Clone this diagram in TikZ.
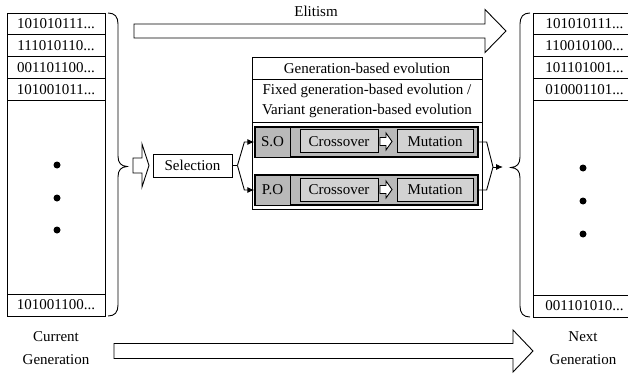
\documentclass[tikz,border=0pt]{standalone}
\usepackage{fontspec}
\setmainfont{Liberation Serif}
\usetikzlibrary{arrows.meta,calc}
\newcommand{\blkarrow}[6]{\draw[ln,fill=white] (#1,#4-#5) -- (#2,#4-#5) -- (#2,#4-#6) -- (#3,#4) -- (#2,#4+#6) -- (#2,#4+#5) -- (#1,#4+#5) -- cycle;}
\begin{document}
\begin{tikzpicture}[x=1pt,y=-1pt,
  every node/.style={font=\fontsize{15}{20}\selectfont, inner sep=0pt},
  ln/.style={line width=0.9pt},
  cell/.style={draw, line width=0.9pt, minimum width=98pt, minimum height=21.75pt},
  rcell/.style={draw, line width=0.9pt, minimum width=103pt, minimum height=21.75pt},
  box/.style={draw, line width=0.9pt, minimum width=230pt},
  rowbox/.style={draw, line width=1.3pt, fill=gray!55, minimum width=223pt, minimum height=30pt},
  tag/.style={draw, line width=0.9pt, fill=gray!55, minimum width=35pt, minimum height=30pt},
  op/.style={draw, line width=1pt, fill=gray!35, minimum height=23pt},
  arr/.style={ln, -{Latex[length=7pt,width=6pt]}}
]
\useasboundingbox (0,0) rectangle (628,374);

% left column
\node[cell] (L1) at (56,23.875) {101010111...};
\node[cell] (L2) at (56,45.625) {111010110...};
\node[cell] (L3) at (56,67.375) {001101100...};
\node[cell] (L4) at (56,89.125) {101001011...};
\node[cell, minimum height=194pt] (L0) at (56,197) {};
\node[cell, minimum height=22pt] (L5) at (56,305) {101001100...};
\fill (57,165) circle (3.5);
\fill (57,198) circle (3.5);
\fill (57,230) circle (3.5);

% right column
\node[rcell] (R1) at (584.5,23.875) {101010111...};
\node[rcell] (R2) at (584.5,45.625) {110010100...};
\node[rcell] (R3) at (584.5,67.375) {101101001...};
\node[rcell] (R4) at (584.5,89.125) {010001101...};
\node[rcell, minimum height=195pt] (R0) at (584.5,197.5) {};
\node[rcell, minimum height=22pt] (R5) at (584.5,306) {001101010...};
\fill (583,168) circle (3.5);
\fill (583,201) circle (3.5);
\fill (583,234) circle (3.5);

% braces
\draw[ln] (108,13) .. controls (115,13) and (118,17) .. (118,24) -- (118,156)
  .. controls (118,163) and (121,166) .. (127,166.5)
  .. controls (121,167) and (118,170) .. (118,177) -- (118,305)
  .. controls (118,312) and (115,316) .. (108,316);
\draw[ln] (530,13) .. controls (523,13) and (520,17) .. (520,24) -- (520,157)
  .. controls (520,164) and (517,167) .. (511,167.5)
  .. controls (517,168) and (520,171) .. (520,178) -- (520,306)
  .. controls (520,313) and (523,317) .. (530,317);

% block arrows
\blkarrow{134}{485}{506}{31}{7}{21.5}
\blkarrow{114}{513}{533}{351}{7.5}{21}
\blkarrow{133}{142}{149}{165.5}{7.5}{21.5}

% labels
\node (elit) at (316,11) {Elitism};
\node[align=center, font=\fontsize{15}{23}\selectfont] (cur) at (56,348) {Current\\Generation};
\node[align=center, font=\fontsize{15}{23}\selectfont] (nxt) at (583,348) {Next\\Generation};

% selection
\node[draw, line width=0.9pt, minimum width=79pt, minimum height=23pt] (sel) at (192.5,165.5) {Selection};

% middle structure
\node[box, minimum height=22pt] (hdr) at (367,68) {Generation-based evolution};
\node[box, minimum height=43pt, align=center] (sub) at (367,100.5) {Fixed generation-based evolution /\\Variant generation-based evolution};
\node[box, minimum height=87pt] (frame) at (367,165.5) {};

\node[rowbox] (so) at (366.5,142) {};
\node[tag] (soL) at (272.5,142) {S.O};
\node[op, minimum width=78pt] (cx1) at (339,141.5) {Crossover};
\node[op, minimum width=76pt] (mu1) at (435,141.5) {Mutation};
\blkarrow{380}{386}{392}{141.5}{4}{8.5}

\node[rowbox] (po) at (366.5,190) {};
\node[tag] (poL) at (272.5,190) {P.O};
\node[op, minimum width=78pt] (cx2) at (339,189.5) {Crossover};
\node[op, minimum width=76pt] (mu2) at (435,189.5) {Mutation};
\blkarrow{380}{386}{392}{189.5}{4}{8.5}

% forks
\draw[ln] (sel.east) -- ++(5,0) coordinate (fk);
\draw[arr] (fk) -- ([xshift=-10pt]so.west) -- (so.west);
\draw[arr] (fk) -- ([xshift=-10pt]po.west) -- (po.west);

\coordinate (jr) at (493,167);
\coordinate (jo) at (503,167);
\draw[ln] (so.east) -- ++(8,0) -- (jr);
\draw[ln] (po.east) -- ++(8,0) -- (jr);
\draw[arr] (jr) -- (jo);
\end{tikzpicture}
\end{document}
